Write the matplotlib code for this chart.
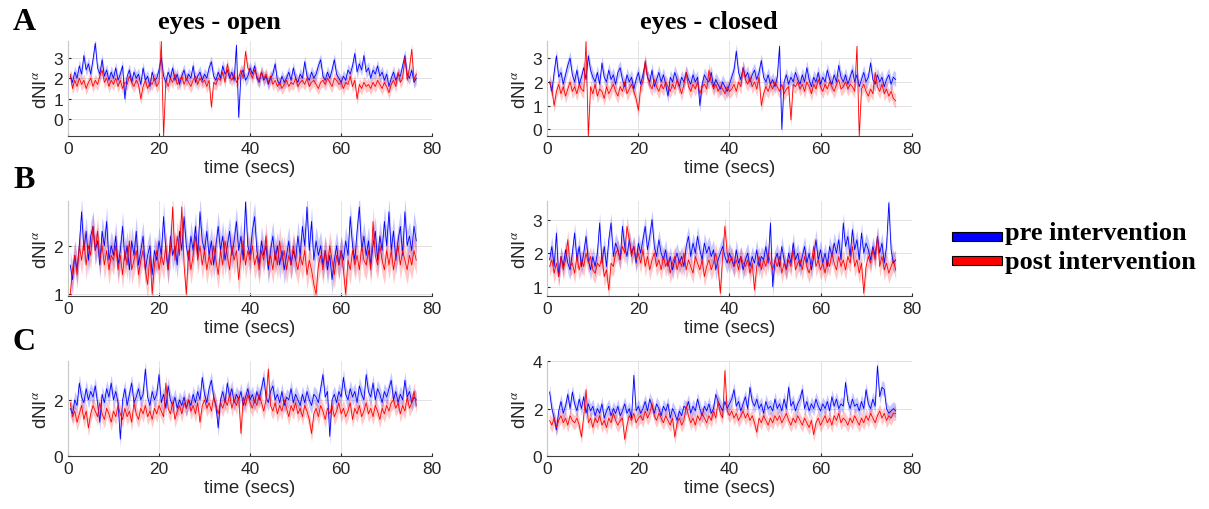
import numpy as np
import matplotlib.pyplot as plt
from matplotlib.patches import Rectangle

# dNI alpha, mean traces sampled every 0.5 s (first sample at 0.5 s)
a_open_pre = [2.1, 1.8, 2.3, 2.0, 2.6, 2.2, 3.1, 2.4, 2.7, 2.2,
              2.9, 3.7, 2.5, 2.2, 2.9, 2.1, 2.4, 1.9, 2.3, 2.0,
              2.5, 1.9, 2.2, 2.6, 1.0, 2.1, 2.4, 1.8, 2.3, 2.0,
              2.2, 1.7, 2.5, 1.9, 2.1, 1.6, 2.3, 1.9, 2.0, 2.4,
              3.0, 2.1, 1.8, 2.3, 2.0, 2.5, 1.9, 2.2, 1.7, 2.1,
              2.4, 1.9, 2.2, 2.0, 2.6, 1.8, 2.1, 2.3, 1.9, 2.2,
              2.0, 2.5, 2.8, 2.1, 1.9, 2.3, 2.0, 2.6, 2.2, 2.4,
              2.0, 2.3, 1.9, 3.6, 0.1, 2.2, 2.4, 1.9, 2.1, 2.5,
              2.2, 2.6, 2.0, 1.8, 2.3, 1.9, 2.1, 1.7, 2.0, 2.2,
              2.7, 1.9, 1.7, 2.1, 1.8, 2.0, 2.3, 1.9, 2.5, 2.0,
              1.8, 2.2, 2.0, 2.8, 2.1, 1.9, 2.3, 2.0, 2.2, 2.6,
              2.9, 2.1, 1.9, 2.3, 2.0, 2.4, 2.9, 2.2, 2.0, 1.8,
              2.1, 1.9, 2.4, 2.2, 2.6, 3.2, 2.3, 2.7, 2.4, 3.1,
              2.3, 2.5, 2.0, 2.4, 2.2, 2.6, 2.1, 2.3, 1.9, 2.2,
              1.6, 2.0, 2.3, 1.9, 2.2, 2.1, 2.6, 3.1, 2.2, 2.0,
              2.4, 1.8, 2.0]
a_open_post = [2.2, 1.5, 1.9, 1.6, 2.0, 1.7, 1.9, 1.5, 1.8, 2.0,
               1.6, 1.9, 1.7, 2.1, 2.4, 1.8, 2.0, 1.6, 1.9, 1.7,
               2.0, 1.6, 1.9, 1.5, 1.8, 1.7, 2.1, 1.8, 1.6, 1.9,
               1.7, 1.0, 1.6, 1.9, 1.5, 1.8, 1.7, 2.0, 1.6, 1.8,
               3.8, -0.8, 1.9, 1.6, 2.0, 1.8, 2.2, 1.7, 1.9, 2.1,
               1.7, 2.0, 1.8, 1.6, 1.9, 2.1, 1.7, 2.0, 1.8, 1.9,
               1.6, 1.9, 0.6, 1.8, 1.7, 2.0, 1.9, 2.3, 1.8, 2.7,
               2.1, 1.9, 2.2, 1.8, 2.0, 2.4, 2.0, 3.3, 2.5, 2.3,
               2.0, 2.4, 2.1, 1.9, 2.3, 2.0, 2.2, 1.8, 2.1, 1.7,
               1.9, 1.6, 1.8, 1.5, 1.7, 1.9, 1.6, 1.8, 1.7, 2.0,
               1.6, 1.8, 1.9, 1.7, 2.0, 1.6, 1.8, 1.9, 1.7, 1.5,
               1.8, 1.9, 1.7, 2.0, 1.8, 1.6, 2.0, 1.9, 1.7, 1.8,
               1.5, 1.8, 1.7, 2.1, 1.6, 1.9, 1.0, 1.7, 1.5, 1.8,
               1.6, 1.7, 1.5, 1.8, 1.6, 1.9, 1.7, 1.5, 1.8, 1.6,
               1.3, 1.7, 1.9, 1.6, 2.3, 1.8, 2.0, 3.0, 1.9, 2.5,
               3.4, 1.9, 2.2]

a_closed_pre = [2.0, 1.6, 2.4, 3.1, 2.2, 2.4, 1.9, 2.3, 2.7, 3.0,
                2.3, 2.0, 2.5, 1.9, 2.2, 2.6, 2.1, 3.1, 2.5, 2.2,
                2.0, 2.4, 1.9, 2.8, 2.2, 2.0, 2.5, 2.1, 2.3, 1.9,
                2.4, 2.6, 2.1, 1.8, 2.3, 2.0, 2.2, 1.7, 2.1, 2.4,
                1.9, 2.3, 2.8, 2.2, 2.0, 2.5, 1.8, 2.1, 2.4, 2.0,
                2.3, 1.9, 1.4, 2.2, 2.0, 2.4, 2.1, 1.8, 2.2, 2.0,
                2.4, 2.1, 1.9, 2.3, 2.0, 2.2, 1.0, 1.9, 2.3, 2.1,
                2.0, 2.4, 1.8, 2.1, 1.9, 1.7, 2.0, 1.8, 1.6, 1.9,
                2.2, 2.5, 3.3, 2.4, 2.1, 2.6, 2.2, 2.4, 2.0, 2.3,
                2.5, 2.1, 2.4, 2.9, 2.2, 2.0, 2.3, 1.9, 2.1, 1.8,
                2.2, 3.5, 0.0, 2.0, 2.3, 1.9, 2.2, 2.0, 2.4, 2.1,
                1.9, 2.3, 2.0, 2.6, 2.1, 1.8, 2.2, 2.0, 2.4, 1.9,
                2.2, 2.0, 2.5, 2.1, 1.9, 2.3, 2.0, 2.7, 2.2, 2.0,
                2.3, 1.9, 2.2, 2.5, 2.0, 2.3, 1.8, 2.1, 2.4, 2.0,
                2.2, 2.8, 2.1, 1.9, 2.3, 2.0, 2.2, 1.8, 2.1, 2.3,
                1.9, 2.2, 2.1]
a_closed_post = [2.0, 1.7, 1.0, 1.6, 1.9, 1.5, 1.8, 1.4, 1.7, 2.0,
                 1.6, 1.8, 1.5, 1.9, 1.7, 1.6, 3.7, -0.3, 1.8, 1.5,
                 1.9, 1.4, 1.7, 1.6, 1.3, 1.8, 1.5, 1.7, 1.9, 1.6,
                 1.4, 1.8, 1.6, 2.0, 1.5, 1.7, 1.9, 1.6, 1.3, 0.8,
                 1.8, 2.0, 2.9, 2.2, 1.9, 1.7, 2.1, 1.8, 1.6, 1.9,
                 1.7, 2.0, 1.8, 1.6, 1.9, 1.7, 2.1, 1.8, 1.5, 1.9,
                 2.4, 1.8, 1.6, 1.9, 1.7, 2.0, 1.5, 1.8, 1.9, 1.7,
                 2.5, 2.0, 1.7, 1.9, 1.6, 1.8, 1.7, 1.5, 1.8, 1.6,
                 1.7, 1.9, 1.6, 2.0, 1.8, 2.6, 2.1, 1.9, 2.2, 1.8,
                 2.0, 1.7, 2.2, 1.0, 1.5, 1.8, 1.6, 1.9, 1.7, 2.0,
                 1.8, 1.6, 1.9, 1.5, 1.7, 1.8, 0.4, 1.9, 1.8, 2.0,
                 1.7, 1.9, 1.6, 2.0, 1.8, 1.5, 1.9, 1.7, 2.1, 1.8,
                 1.6, 1.9, 1.7, 2.0, 1.8, 1.6, 1.9, 2.1, 1.7, 1.8,
                 2.0, 1.7, 1.9, 1.8, 1.6, 3.5, -0.3, 1.7, 1.9, 1.6,
                 1.4, 1.7, 1.5, 2.4, 1.8, 1.6, 1.9, 1.5, 1.7, 1.4,
                 1.6, 1.3, 1.2]

b_open_pre = [1.6, 1.3, 1.8, 1.5, 2.0, 2.7, 1.9, 2.3, 1.7, 2.2,
              2.4, 1.9, 2.1, 1.6, 2.3, 2.0, 2.5, 1.7, 2.0, 1.8,
              2.2, 1.6, 1.9, 2.4, 1.7, 2.0, 1.5, 2.1, 1.8, 2.3,
              1.6, 1.9, 2.2, 1.5, 1.8, 2.0, 1.4, 1.9, 1.7, 2.1,
              1.8, 2.6, 1.9, 1.5, 2.2, 1.8, 2.0, 1.6, 2.3, 1.9,
              2.6, 2.0, 1.7, 2.2, 1.9, 2.4, 1.8, 2.7, 2.1, 1.9,
              2.3, 1.8, 2.1, 1.6, 2.0, 2.4, 1.9, 2.2, 1.7, 2.0,
              2.3, 1.8, 2.1, 2.5, 1.9, 2.2, 1.7, 2.9, 2.0, 1.8,
              2.3, 2.6, 1.9, 1.6, 2.1, 1.8, 2.0, 1.5, 1.9, 2.2,
              1.7, 2.0, 1.6, 1.9, 1.5, 1.8, 2.1, 1.6, 1.9, 1.7,
              2.2, 1.8, 2.4, 2.0, 2.8, 1.9, 2.5, 1.7, 2.1, 1.8,
              2.0, 1.6, 1.9, 1.5, 1.8, 1.3, 1.7, 2.0, 1.6, 1.9,
              1.7, 2.1, 1.8, 2.6, 2.0, 1.7, 2.3, 2.8, 1.9, 2.2,
              1.8, 2.1, 1.6, 2.0, 2.3, 1.7, 2.2, 1.9, 2.5, 2.0,
              2.7, 1.9, 2.3, 1.7, 2.1, 2.4, 1.8, 2.7, 2.0, 2.2,
              1.9, 2.4, 2.1]
b_open_post = [1.0, 1.5, 1.8, 1.4, 2.0, 1.7, 2.1, 1.6, 2.0, 1.8,
               2.4, 1.9, 2.3, 1.7, 2.0, 1.6, 1.9, 1.5, 1.8, 1.7,
               2.0, 1.5, 1.8, 1.4, 1.9, 1.6, 2.1, 1.5, 1.7, 1.9,
               1.4, 1.7, 1.9, 1.5, 1.2, 1.8, 1.0, 1.6, 1.9, 1.5,
               1.8, 1.6, 2.0, 1.5, 1.9, 2.8, 1.7, 2.2, 1.8, 2.8,
               1.6, 1.0, 1.9, 1.5, 1.8, 2.2, 1.7, 2.0, 1.6, 1.9,
               1.5, 1.8, 1.6, 2.0, 1.7, 1.4, 1.9, 1.6, 2.1, 1.8,
               1.5, 2.0, 1.7, 1.9, 1.3, 1.8, 2.1, 1.6, 1.9, 1.7,
               2.0, 1.6, 1.8, 1.5, 1.9, 1.7, 2.2, 1.6, 1.8, 1.5,
               1.9, 1.6, 2.1, 1.7, 1.9, 1.5, 1.8, 1.6, 2.0, 1.7,
               1.5, 1.8, 1.6, 1.9, 1.4, 1.7, 1.5, 1.2, 1.0, 1.6,
               1.8, 1.5, 1.9, 1.6, 2.0, 1.7, 1.4, 1.8, 1.6, 1.9,
               1.5, 1.0, 1.7, 1.5, 1.9, 1.6, 1.8, 1.5, 2.0, 1.7,
               1.6, 1.9, 1.5, 2.5, 1.8, 1.6, 2.0, 1.7, 1.5, 1.9,
               1.6, 1.9, 1.5, 1.8, 2.0, 1.6, 1.9, 1.7, 1.5, 1.8,
               1.6, 1.9, 1.7]

b_closed_pre = [1.8, 2.2, 1.6, 2.6, 1.3, 1.9, 1.6, 2.1, 1.7, 1.5,
                2.0, 2.6, 1.8, 2.2, 1.6, 2.0, 2.5, 1.8, 1.5, 1.9,
                1.6, 2.0, 2.9, 1.7, 2.2, 1.6, 2.4, 2.9, 1.9, 2.3,
                2.1, 1.8, 2.8, 2.2, 1.9, 2.4, 2.0, 2.2, 1.7, 2.3,
                2.0, 2.4, 2.8, 2.1, 2.5, 3.0, 2.2, 1.9, 2.4, 2.0,
                1.8, 2.1, 1.6, 1.9, 1.5, 1.8, 2.0, 1.7, 1.9, 1.6,
                2.2, 2.5, 1.9, 2.3, 2.0, 2.5, 2.1, 1.8, 2.3, 2.0,
                2.2, 1.9, 2.1, 1.5, 1.8, 2.0, 2.2, 1.9, 1.7, 2.0,
                1.8, 1.6, 2.1, 1.7, 1.9, 1.5, 1.8, 2.0, 1.6, 1.9,
                1.7, 2.1, 1.6, 1.9, 1.8, 2.2, 1.7, 2.9, 1.0, 1.8,
                2.0, 1.6, 2.2, 1.8, 1.5, 2.0, 1.7, 2.3, 1.8, 2.0,
                1.6, 1.9, 2.2, 1.7, 2.0, 1.5, 1.9, 2.4, 1.8, 2.1,
                1.7, 2.0, 1.6, 2.2, 1.9, 2.3, 2.0, 2.4, 1.8, 2.9,
                2.2, 2.5, 1.9, 2.7, 2.1, 2.4, 1.8, 2.6, 2.0, 2.3,
                2.1, 1.8, 2.2, 1.9, 2.5, 2.0, 2.3, 1.7, 2.2, 3.5,
                2.1, 1.7, 1.8]
b_closed_post = [1.6, 1.8, 1.4, 1.7, 1.3, 1.9, 1.5, 1.8, 2.4, 1.6,
                 1.7, 1.4, 1.9, 1.5, 1.8, 1.6, 2.0, 1.7, 1.9, 1.5,
                 1.4, 1.7, 1.6, 1.9, 1.3, 1.5, 0.9, 1.7, 1.6, 2.0,
                 2.1, 1.8, 2.2, 2.0, 2.8, 2.4, 1.9, 2.2, 1.8, 2.0,
                 1.7, 2.1, 1.6, 1.9, 1.5, 1.8, 2.0, 1.6, 1.8, 1.5,
                 1.9, 1.6, 1.8, 1.4, 1.7, 1.9, 1.5, 1.8, 1.6, 2.0,
                 1.5, 1.8, 1.6, 1.4, 1.9, 1.7, 1.5, 1.8, 1.3, 1.6,
                 1.8, 1.5, 1.7, 2.0, 1.6, 0.8, 1.9, 2.8, 2.0, 1.7,
                 1.9, 1.6, 1.8, 1.5, 1.9, 1.7, 1.6, 1.8, 1.4, 1.7,
                 0.9, 1.6, 1.9, 1.5, 1.8, 1.6, 2.0, 1.7, 1.5, 1.8,
                 1.6, 1.9, 1.4, 1.7, 1.5, 1.8, 1.6, 2.1, 1.5, 1.7,
                 1.8, 1.5, 1.9, 1.6, 1.4, 1.7, 2.2, 1.6, 1.8, 1.5,
                 1.7, 1.4, 1.8, 1.6, 2.0, 1.7, 1.5, 1.9, 1.6, 1.8,
                 1.5, 1.9, 1.7, 2.2, 1.6, 1.8, 1.4, 1.7, 0.8, 1.6,
                 1.9, 1.7, 2.1, 1.8, 2.5, 1.6, 1.9, 1.5, 1.7, 1.4,
                 1.6, 1.8, 1.5]

c_open_pre = [1.7, 1.5, 2.0, 1.8, 2.6, 2.1, 1.9, 2.4, 2.0, 2.3,
              2.1, 2.5, 1.9, 1.2, 2.2, 1.9, 2.4, 2.1, 2.6, 2.0,
              2.3, 1.9, 0.6, 2.0, 2.4, 1.8, 2.2, 2.6, 1.9, 2.1,
              2.4, 2.0, 2.2, 3.1, 2.1, 1.8, 2.3, 2.0, 2.2, 2.9,
              1.9, 2.2, 1.7, 2.5, 2.0, 1.8, 2.1, 1.7, 2.0, 1.8,
              2.1, 1.7, 2.0, 1.8, 2.2, 1.9, 2.3, 2.0, 2.8, 2.2,
              1.9, 2.4, 2.7, 2.1, 1.8, 1.0, 2.0, 2.3, 1.9, 2.6,
              2.1, 2.4, 1.9, 2.2, 2.0, 2.3, 1.8, 2.1, 2.4, 2.0,
              2.2, 1.9, 2.3, 2.0, 2.4, 2.8, 2.1, 1.9, 2.3, 2.5,
              2.0, 2.2, 1.9, 2.3, 1.8, 2.1, 2.0, 2.4, 1.9, 2.2,
              2.0, 1.8, 2.2, 1.9, 2.3, 2.0, 1.8, 2.2, 2.1, 1.9,
              2.4, 2.9, 2.1, 2.3, 0.7, 2.0, 2.2, 1.9, 2.3, 2.1,
              2.8, 2.2, 2.0, 2.4, 2.1, 2.3, 1.9, 2.5, 2.2, 2.0,
              2.9, 2.3, 2.1, 2.6, 2.0, 2.4, 2.2, 1.9, 2.3, 2.1,
              2.4, 2.7, 2.0, 2.3, 1.9, 2.2, 2.0, 2.7, 2.1, 2.3,
              1.9, 2.1, 2.0]
c_open_post = [1.9, 1.4, 1.6, 1.2, 1.5, 1.8, 1.3, 1.6, 1.0, 1.5,
               1.8, 1.6, 1.4, 1.9, 1.5, 1.3, 1.7, 1.5, 1.2, 1.6,
               1.4, 1.8, 1.5, 1.3, 1.7, 1.4, 1.6, 1.2, 1.9, 1.5,
               1.3, 1.7, 1.5, 1.8, 1.4, 1.6, 1.3, 1.7, 1.5, 1.8,
               1.6, 1.4, 2.6, 1.7, 1.5, 1.9, 1.3, 1.6, 1.8, 1.5,
               1.9, 1.7, 2.0, 1.6, 1.8, 1.5, 1.9, 1.2, 1.8, 2.0,
               1.7, 1.9, 1.6, 2.1, 1.8, 1.5, 1.9, 1.7, 2.0, 1.8,
               2.2, 1.7, 2.0, 1.8, 2.1, 0.8, 2.1, 1.8, 2.2, 1.9,
               1.7, 2.0, 1.8, 2.2, 1.9, 1.6, 2.0, 3.1, 1.8, 1.6,
               1.9, 1.5, 1.8, 1.6, 2.0, 1.7, 1.4, 1.8, 1.6, 1.9,
               1.5, 1.7, 1.4, 1.8, 1.6, 1.3, 0.8, 1.5, 1.7, 1.4,
               1.8, 1.6, 1.3, 1.7, 1.5, 1.8, 1.4, 1.6, 1.9, 1.5,
               1.7, 1.4, 1.6, 1.9, 1.3, 1.7, 1.5, 1.8, 1.4, 1.6,
               1.9, 1.5, 1.7, 1.4, 1.8, 1.6, 1.3, 1.7, 1.5, 1.8,
               1.6, 1.9, 2.0, 1.7, 1.9, 1.5, 1.8, 1.6, 2.1, 1.7,
               1.9, 2.3, 1.8]

c_closed_pre = [2.7, 2.0, 1.6, 1.1, 1.9, 2.3, 1.8, 2.1, 2.6, 2.0,
                2.7, 2.2, 1.9, 2.4, 2.0, 2.5, 1.8, 2.2, 1.9, 2.1,
                1.7, 2.0, 1.8, 2.2, 1.6, 1.9, 2.1, 1.7, 2.0, 1.8,
                2.1, 1.7, 1.9, 2.2, 1.8, 2.0, 1.6, 3.4, 1.9, 2.1,
                1.8, 2.0, 2.3, 1.9, 2.4, 2.1, 1.8, 2.2, 2.0, 1.7,
                2.1, 1.9, 2.2, 1.6, 2.0, 1.8, 1.5, 1.9, 1.7, 2.1,
                2.0, 2.3, 1.8, 2.1, 1.9, 2.4, 2.0, 1.7, 2.1, 1.9,
                2.2, 1.8, 2.0, 2.6, 2.3, 2.1, 1.9, 2.3, 2.0, 2.2,
                2.4, 2.8, 2.1, 2.3, 1.9, 2.2, 2.5, 2.0, 2.9, 2.3,
                2.1, 2.4, 2.0, 2.2, 1.8, 2.3, 2.0, 2.1, 1.9, 2.4,
                2.0, 2.2, 1.9, 2.4, 2.0, 2.9, 2.1, 2.3, 1.9, 2.2,
                2.4, 2.8, 2.0, 2.3, 1.9, 2.2, 2.0, 2.4, 2.1, 1.9,
                2.2, 2.0, 2.3, 1.9, 2.5, 2.1, 2.4, 2.0, 2.2, 2.1,
                3.1, 2.3, 2.0, 2.4, 2.1, 2.2, 1.9, 2.3, 2.0, 2.8,
                2.2, 2.0, 2.4, 2.1, 3.8, 2.5, 2.9, 2.8, 2.0, 1.8,
                1.9, 2.0, 1.9]
c_closed_post = [1.5, 1.3, 1.6, 1.2, 1.5, 1.7, 1.4, 1.6, 1.3, 1.7,
                 1.5, 1.4, 1.6, 1.3, 0.8, 1.7, 2.8, 1.4, 1.6, 1.2,
                 1.6, 1.4, 1.7, 1.3, 1.5, 1.2, 1.6, 1.4, 1.8, 1.5,
                 1.3, 1.5, 1.6, 0.7, 1.3, 1.7, 1.5, 1.8, 1.4, 1.6,
                 1.7, 1.5, 1.9, 1.6, 1.8, 2.2, 1.7, 1.5, 1.8, 1.6,
                 1.4, 1.7, 1.5, 1.3, 1.6, 0.8, 1.4, 1.6, 1.3, 1.5,
                 2.1, 1.7, 1.4, 1.6, 1.3, 1.7, 1.5, 1.8, 1.6, 1.4,
                 1.7, 1.5, 1.9, 1.6, 2.3, 1.8, 1.6, 3.6, 1.9, 1.7,
                 1.9, 1.6, 1.8, 1.5, 1.7, 1.9, 1.6, 1.8, 1.5, 1.7,
                 1.4, 1.0, 1.6, 1.4, 1.7, 1.5, 1.3, 1.6, 1.4, 1.7,
                 1.5, 1.7, 1.4, 1.6, 1.8, 1.5, 1.3, 1.6, 1.4, 1.7,
                 1.5, 1.3, 1.6, 1.4, 1.2, 1.5, 0.9, 1.4, 1.6, 1.3,
                 1.5, 1.7, 1.4, 1.6, 1.3, 1.7, 1.5, 1.8, 1.4, 1.6,
                 1.5, 1.3, 1.6, 1.4, 1.7, 1.5, 1.3, 1.6, 1.4, 1.7,
                 1.5, 1.8, 1.6, 1.4, 1.7, 1.9, 1.6, 1.8, 1.5, 1.7,
                 1.6, 1.8, 1.8]

# half width of the shaded error band
band = 0.3

plt.rcParams['font.family'] = 'Liberation Sans'
plt.rcParams['mathtext.fontset'] = 'stix'

fig = plt.figure(figsize=(12.09, 5.10), dpi=100)

panels = [
    # (left, bottom, pre, post, ylim, yticks)
    (0.0562, 0.7314, a_open_pre, a_open_post, (-0.8, 3.8), [0, 1, 2, 3]),
    (0.4527, 0.7314, a_closed_pre, a_closed_post, (-0.28, 3.72), [0, 1, 2, 3]),
    (0.0562, 0.4176, b_open_pre, b_open_post, (0.96, 2.92), [1, 2]),
    (0.4527, 0.4176, b_closed_pre, b_closed_post, (0.72, 3.55), [1, 2, 3]),
    (0.0562, 0.1039, c_open_pre, c_open_post, (0, 3.38), [0, 2]),
    (0.4527, 0.1039, c_closed_pre, c_closed_post, (0, 4.0), [0, 2, 4]),
]

for left, bottom, pre, post, ylim, yticks in panels:
    ax = fig.add_axes([left, bottom, 0.3013, 0.186])
    for series, col in [(pre, '#0000ff'), (post, '#ff0000')]:
        y = np.array(series)
        t = 0.5 + 0.5 * np.arange(len(y))
        ax.fill_between(t, y - band, y + band, color=col, alpha=0.22, lw=0)
        ax.plot(t, y, color=col, lw=0.6)
    ax.set_xlim(0, 80)
    ax.set_ylim(*ylim)
    ax.set_xticks([0, 20, 40, 60, 80])
    ax.set_yticks(yticks)
    ax.grid(True, color='#e3e3e3', lw=0.7)
    ax.set_axisbelow(True)
    for s in ['top', 'right']:
        ax.spines[s].set_visible(False)
    ax.spines['left'].set_color('#c8c8c8')
    ax.spines['bottom'].set_color('#404040')
    ax.tick_params(labelsize=12.5, colors='#262626', length=2, direction='in')
    ax.set_xlabel('time (secs)', fontsize=13.5, color='#262626', labelpad=2)
    ax.set_ylabel(r'dNI$^{\alpha}$', fontsize=13.5, color='#262626', labelpad=2)

# column titles and row letters
serif = 'Liberation Serif'
fig.text(219 / 1209, 1 - 22 / 510, 'eyes - open', family=serif, weight='bold',
         fontsize=19, ha='center', va='center')
fig.text(709 / 1209, 1 - 22 / 510, 'eyes - closed', family=serif, weight='bold',
         fontsize=19, ha='center', va='center')
for letter, ypix in [('A', 22), ('B', 180), ('C', 343)]:
    fig.text(24 / 1209, 1 - ypix / 510, letter, family=serif, weight='bold',
             fontsize=23, ha='center', va='center')

# legend
for label, col, ypix, ytxt in [('pre intervention', '#0000ff', 237.5, 234),
                               ('post intervention', '#ff0000', 261, 263)]:
    fig.patches.append(Rectangle((952 / 1209, 1 - (ypix + 4.5) / 510), 50 / 1209, 9 / 510,
                                 transform=fig.transFigure, facecolor=col,
                                 edgecolor='black', lw=0.8))
    fig.text(1005 / 1209, 1 - ytxt / 510, label, family=serif, weight='bold',
             fontsize=19, ha='left', va='center')

plt.savefig('out.png', dpi=100)
